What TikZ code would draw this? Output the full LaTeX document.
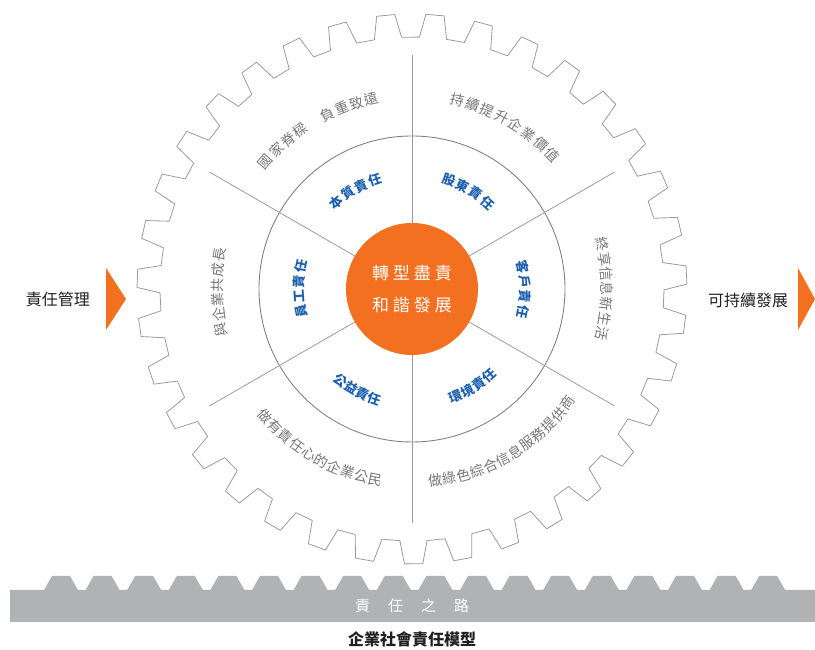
\documentclass[tikz,border=0pt]{standalone}
\usepackage{fontspec}
\setmainfont{Noto Sans CJK TC}
\usepackage{tikz}
\usetikzlibrary{shapes}

\definecolor{linegray}{RGB}{155,155,155}
\definecolor{ringgray}{RGB}{130,130,130}
\definecolor{wordgray}{RGB}{118,118,118}
\definecolor{csrblue}{RGB}{28,95,175}
\definecolor{csrorange}{RGB}{243,112,33}
\definecolor{rackgray}{RGB}{177,178,180}
\definecolor{inkblack}{RGB}{35,31,32}

\begin{document}
\begin{tikzpicture}
[x=1pt,y=1pt]
\tikzset{
	gearline/.style = {draw=linegray, line width=0.8pt, line join=round},
	ring/.style = {draw=ringgray, line width=0.9pt},
	spoke/.style = {draw=linegray, line width=0.8pt},
	hub/.style = {circle, fill=csrorange, minimum size=132pt, inner sep=0, text=white, align=center, font=\fontsize{17}{32}\selectfont},
	outerword/.style = {text=wordgray, inner sep=0, font=\fontsize{14}{14}\selectfont},
	innerword/.style = {text=csrblue, inner sep=0, font=\fontsize{13}{13}\selectfont\bfseries},
	sideword/.style = {text=inkblack, inner sep=0, font=\fontsize{16}{16}\selectfont},
	rackword/.style = {text=white, inner sep=0, font=\fontsize{15}{15}\selectfont},
	titleword/.style = {text=inkblack, inner sep=0, font=\fontsize{16}{16}\selectfont\bfseries}
}
\useasboundingbox (0,0) rectangle (815,650);

\begin{scope}[shift={(412,361)}]
\coordinate (c) at (0,0);

% gear
\draw[gearline] (88.3:252)
	\foreach \k in {0,...,34}{
		-- ({85.2-\k*360/35+3.1}:252) -- ({85.2-\k*360/35+1.9}:275)
		-- ({85.2-\k*360/35-1.9}:275) -- ({85.2-\k*360/35-3.1}:252)
	} -- cycle;

\draw[ring] (c) circle (153);

\node[hub] (hub) at (c) {轉\hspace{4pt}型\hspace{4pt}盡\hspace{4pt}責\\和\hspace{4pt}諧\hspace{4pt}發\hspace{4pt}展};
\foreach \a in {30,90,...,330}
	\draw[spoke] (hub.\a) -- (\a:234);

% outer words
\foreach \ch [count=\i from 0] in {國,家,脊,樑,{},負,重,致,遠}
	\node[outerword, rotate=138.9-\i*4.6-90] at ({138.9-\i*4.6}:194) {\ch};
\foreach \ch [count=\i from 0] in {持,續,提,升,企,業,價,值}
	\node[outerword, rotate=76.5-\i*4.7-90] at ({76.5-\i*4.7}:194) {\ch};
\foreach \ch [count=\i from 0] in {終,享,信,息,新,生,活}
	\node[outerword, rotate=13.2-\i*4.4-90] at ({13.2-\i*4.4}:195) {\ch};
\foreach \ch [count=\i from 0] in {與,企,業,共,成,長}
	\node[outerword, rotate=192-\i*4.4-90] at ({192-\i*4.4}:195) {\ch};
\foreach \ch [count=\i from 0] in {做,有,責,任,心,的,企,業,公,民}
	\node[outerword, rotate=220.9+\i*4.25+90] at ({220.9+\i*4.25}:194) {\ch};
\foreach \ch [count=\i from 0] in {做,綠,色,綜,合,信,息,服,務,提,供,商}
	\node[outerword, rotate=276.9+\i*4.26+90] at ({276.9+\i*4.26}:193) {\ch};

% inner words
\foreach \ch [count=\i from 0] in {本,質,責,任}
	\node[innerword, rotate=131.2-\i*7.5-90] at ({131.2-\i*7.5}:115) {\ch};
\foreach \ch [count=\i from 0] in {股,東,責,任}
	\node[innerword, rotate=71.2-\i*7.5-90] at ({71.2-\i*7.5}:115) {\ch};
\foreach \ch [count=\i from 0] in {客,戶,責,任}
	\node[innerword, rotate=11.5-\i*7.7-90] at ({11.5-\i*7.7}:113) {\ch};
\foreach \ch [count=\i from 0] in {員,工,責,任}
	\node[innerword, rotate=191.5-\i*7.7-90] at ({191.5-\i*7.7}:113) {\ch};
\foreach \ch [count=\i from 0] in {公,益,責,任}
	\node[innerword, rotate=232.2+\i*6.3+90] at ({232.2+\i*6.3}:116) {\ch};
\foreach \ch [count=\i from 0] in {環,境,責,任}
	\node[innerword, rotate=292.2+\i*6.5+90] at ({292.2+\i*6.5}:116) {\ch};
\end{scope}

% side labels
\node[sideword] (mgmt) at (58,351) {責任管理};
\fill[csrorange] (106,382) -- (126,351) -- (106,320) -- cycle;
\node[sideword] (goal) at (748,350) {可持續發展};
\fill[csrorange] (798,382) -- (815,351) -- (798,320) -- cycle;

% rack
\fill[rackgray] (10,28) -- (10,60)
	\foreach \k in {0,...,17}{
		-- ({44+\k*41.6},60) -- ({52+\k*41.6},74) -- ({70+\k*41.6},74) -- ({78+\k*41.6},60)
	} -- (815,60) -- (815,28) -- cycle;
\node[rackword] (road) at (412,44) {責\hspace{18pt}任\hspace{18pt}之\hspace{18pt}路};
\node[titleword] (title) at (412,11) {企業社會責任模型};

\end{tikzpicture}
\end{document}
